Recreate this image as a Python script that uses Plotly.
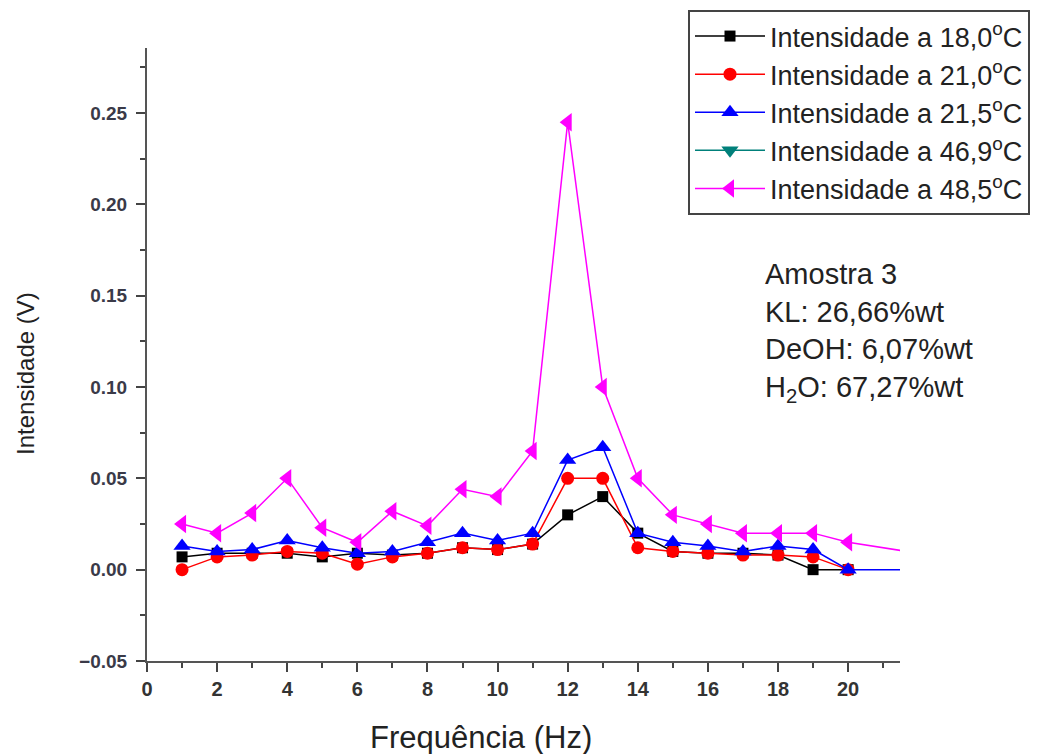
import plotly.graph_objects as go

freq = list(range(1, 21))
freq_ext = freq + [22]

i_18_0 = [0.007, 0.009, 0.009, 0.009, 0.007, 0.009, 0.008, 0.009, 0.012, 0.011,
          0.014, 0.030, 0.040, 0.020, 0.010, 0.009, 0.009, 0.008, 0.000, 0.000]
i_21_0 = [0.000, 0.007, 0.008, 0.010, 0.009, 0.003, 0.007, 0.009, 0.012, 0.011,
          0.014, 0.050, 0.050, 0.012, 0.010, 0.009, 0.008, 0.008, 0.007, 0.000]
i_21_5 = [0.013, 0.010, 0.011, 0.016, 0.012, 0.009, 0.010, 0.015, 0.020, 0.016,
          0.020, 0.060, 0.067, 0.020, 0.015, 0.013, 0.010, 0.013, 0.011, 0.000, 0.000]
i_48_5 = [0.025, 0.020, 0.031, 0.050, 0.023, 0.015, 0.032, 0.024, 0.044, 0.040,
          0.065, 0.245, 0.100, 0.050, 0.030, 0.025, 0.020, 0.020, 0.020, 0.015, 0.009]

names = ["Intensidade a 18,0<sup>o</sup>C", "Intensidade a 21,0<sup>o</sup>C",
         "Intensidade a 21,5<sup>o</sup>C", "Intensidade a 46,9<sup>o</sup>C",
         "Intensidade a 48,5<sup>o</sup>C"]

fig = go.Figure()
fig.add_trace(go.Scatter(x=freq, y=i_18_0, name=names[0], mode="lines+markers",
                         line=dict(color="black", width=1.5),
                         marker=dict(symbol="square", size=11, color="black")))
fig.add_trace(go.Scatter(x=freq, y=i_21_0, name=names[1], mode="lines+markers",
                         line=dict(color="red", width=1.5),
                         marker=dict(symbol="circle", size=13, color="red")))
fig.add_trace(go.Scatter(x=freq_ext, y=i_21_5, name=names[2], mode="lines+markers",
                         line=dict(color="blue", width=1.5),
                         marker=dict(symbol="triangle-up", size=15, color="blue")))
fig.add_trace(go.Scatter(x=[None], y=[None], name=names[3], mode="lines+markers",
                         line=dict(color="#00807a", width=1.5),
                         marker=dict(symbol="triangle-down", size=15, color="#00807a")))
fig.add_trace(go.Scatter(x=freq_ext, y=i_48_5, name=names[4], mode="lines+markers",
                         line=dict(color="magenta", width=1.5),
                         marker=dict(symbol="triangle-left", size=16, color="magenta")))

fig.update_xaxes(range=[0, 21.48], tickvals=list(range(0, 21, 2)),
                 ticks="outside", ticklen=9, tickwidth=1.5, tickcolor="#444",
                 minor=dict(dtick=1, tick0=0, ticks="outside", ticklen=5, tickcolor="#444"),
                 showline=True, linecolor="#555", linewidth=2, showgrid=False, zeroline=False,
                 tickfont=dict(family="Liberation Sans Narrow, Arial Narrow, Arial", size=20,
                               color="#333", weight="bold"))
fig.update_yaxes(range=[-0.05, 0.2856], tickvals=[-0.05, 0, 0.05, 0.10, 0.15, 0.20, 0.25],
                 tickformat=".2f", ticklabelstandoff=5,
                 ticks="outside", ticklen=9, tickwidth=1.5, tickcolor="#444",
                 minor=dict(dtick=0.025, tick0=0, ticks="outside", ticklen=5, tickcolor="#444"),
                 showline=True, linecolor="#555", linewidth=2, showgrid=False, zeroline=False,
                 tickfont=dict(family="Arial", size=19, color="#3a3a48", weight="bold"))

# axis titles
fig.add_annotation(xref="paper", yref="paper", x=(481 - 147) / 753, y=(661 - 737) / 613,
                   xanchor="center", yanchor="middle", showarrow=False,
                   text="Frequência (Hz)", font=dict(family="Arial", size=31, color="#222"))
fig.add_annotation(xref="paper", yref="paper", x=(25 - 147) / 753, y=(661 - 374) / 613,
                   xanchor="center", yanchor="middle", showarrow=False, textangle=-90,
                   text="Intensidade (V)", font=dict(family="Arial", size=24, color="#222"))

fig.add_annotation(xref="paper", yref="paper", x=(763 - 147) / 753, y=(661 - 256) / 613,
                   xanchor="left", yanchor="top", align="left", showarrow=False,
                   text="Amostra 3<br>KL: 26,66%wt<br>DeOH: 6,07%wt<br>H<sub>2</sub>O: 67,27%wt",
                   font=dict(family="Arial", size=29, color="#222"))

fig.update_layout(
    width=1056, height=754,
    margin=dict(l=139, r=164, t=40, b=101, autoexpand=False),
    plot_bgcolor="white", paper_bgcolor="white",
    showlegend=True,
    legend=dict(x=(688 - 147) / 753, y=(661 - 10) / 613, xanchor="left", yanchor="top",
                bordercolor="#444", borderwidth=2, bgcolor="white",
                font=dict(family="Arial", size=27, color="#222"),
                tracegroupgap=0, itemwidth=70),
)

fig.write_html("out.html")
